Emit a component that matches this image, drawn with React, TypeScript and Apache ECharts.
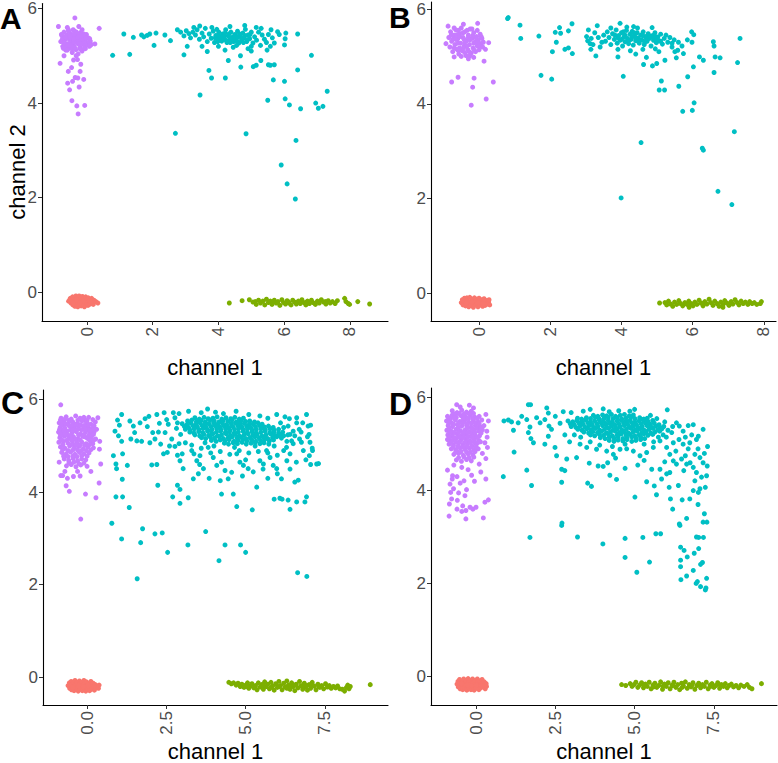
import React, { useEffect, useRef } from "react";
import * as echarts from "echarts";

const FONT = "'Liberation Sans', Arial, Helvetica, sans-serif";
const RED = "#F8766D";
const GREEN = "#7CAE00";
const CYAN = "#00BFC4";
const PURPLE = "#C77CFF";

const panelLetters = ["A", "B", "C", "D"];
const xTicksAB = [0, 2, 4, 6, 8];
const xTicksCD = [0, 2.5, 5, 7.5];
const yTicks = [0, 2, 4, 6];
const xTitle = "channel 1";
const yTitle = "channel 2";

// ---------------- Panel A ----------------
const redA = [[-.56,-.19],[-.51,-.13],[-.49,-.23],[-.44,-.1],[-.46,-.17],[-.43,-.27],[-.39,-.14],[-.41,-.21],[-.37,-.3],[-.34,-.08],[-.36,-.18],[-.33,-.25],[-.29,-.12],[-.31,-.21],[-.28,-.31],[-.24,-.08],[-.26,-.16],[-.23,-.26],[-.19,-.12],[-.21,-.2],[-.18,-.29],[-.14,-.09],[-.16,-.17],[-.13,-.25],[-.09,-.13],[-.11,-.22],[-.08,-.31],[-.04,-.1],[-.06,-.18],[-.03,-.27],[.01,-.14],[-.01,-.23],[.04,-.12],[.06,-.2],[.03,-.28],[.1,-.16],[.09,-.25],[.14,-.13],[.16,-.21],[.21,-.17],[.19,-.26],[.27,-.2],[.33,-.23],[-.52,-.18],[-.32,-.16],[-.12,-.19],[.08,-.18],[.12,-.21],[-.22,-.23],[-.42,-.23]];
const greenA = [[4.33,-.23],[4.72,-.18],[4.94,-.16],[5.12,-.2],[5.15,-.26],[5.22,-.17],[5.28,-.23],[5.35,-.19],[5.41,-.27],[5.46,-.15],[5.52,-.22],[5.58,-.19],[5.63,-.26],[5.7,-.17],[5.76,-.23],[5.81,-.2],[5.87,-.28],[5.93,-.16],[5.98,-.22],[6.04,-.25],[6.09,-.18],[6.15,-.23],[6.21,-.27],[6.26,-.17],[6.32,-.21],[6.37,-.25],[6.43,-.19],[6.49,-.24],[6.54,-.16],[6.6,-.22],[6.66,-.27],[6.71,-.19],[6.77,-.24],[6.83,-.17],[6.88,-.22],[6.95,-.26],[7.01,-.19],[7.07,-.23],[7.13,-.16],[7.2,-.21],[7.27,-.25],[7.34,-.18],[7.4,-.23],[7.47,-.2],[7.55,-.24],[7.62,-.18],[7.84,-.13],[7.88,-.2],[7.95,-.24],[7.99,-.26],[8.24,-.2],[8.6,-.25],[5.05,-.21],[5.67,-.21],[6.12,-.2],[6.68,-.21],[7.25,-.2]];
const purpleA = [[-.8,5.3],[-.76,5.42],[-.74,5.2],[-.7,5.5],[-.68,5.33],[-.65,5.12],[-.62,5.44],[-.6,5.25],[-.57,5.55],[-.55,5.36],[-.52,5.16],[-.5,5.47],[-.48,5.29],[-.45,5.07],[-.43,5.4],[-.41,5.21],[-.38,5.52],[-.36,5.33],[-.34,5.13],[-.31,5.44],[-.29,5.26],[-.27,5.04],[-.24,5.37],[-.22,5.18],[-.2,5.49],[-.17,5.3],[-.15,5.1],[-.12,5.41],[-.1,5.23],[-.07,5.34],[-.05,5.15],[-.02,5.45],[.01,5.27],[.04,5.38],[.07,5.2],[.1,5.31],[.13,5.24],[-.63,5.37],[-.46,5.38],[-.26,5.45],[-.09,5.32],[-.39,5.28],[-.58,5.18],[-.75,5.35],[-.55,5.26],[-.35,5.41],[-.15,5.34],[.05,5.29],[-.65,5.22],[-.45,5.15],[-.25,5.28],[-.05,5.22],[-.5,5.38],[-.3,5.36],[-.1,5.46],[-.7,5.27],[-.2,5.25],[-.4,5.45],
[-.78,5.45],[-.66,5.4],[-.52,5.42],[-.4,5.36],[-.28,5.4],[-.18,5.42],[-.04,5.38],[.08,5.36],[-.72,5.16],[-.6,5.12],[-.5,5.22],[-.38,5.18],[-.2,5.14],[-.08,5.16],[.1,5.22],[-.56,5.52],[-.42,5.55],[-.32,5.5],[-.15,5.55],
[-.37,5.8],[-.87,5.62],[-.6,5.6],[-.25,5.62],[.37,5.58],[.24,5.25],[-.82,4.84],[-.41,4.91],[-.19,4.82],[-.29,4.92],[-.57,4.67],[-.21,4.67],[-.59,4.42],[-.44,4.46],[-.36,4.54],[-.28,4.53],[-.1,4.5],[-.53,4.28],[-.24,4.34],[-.46,4.05],[-.31,3.94],[-.07,3.95],[-.27,3.77],[-.47,4.75],[-.33,5.0],[-.7,5.0]];
const cyanA = [[2.75,5.55],[2.85,5.5],[2.95,5.42],[3.02,5.53],[3.1,5.47],[3.15,5.38],[3.22,5.5],[3.3,5.44],[3.35,5.55],[3.42,5.35],[3.5,5.48],[3.55,5.4],[3.6,5.58],[3.66,5.3],[3.72,5.46],[3.78,5.37],[3.84,5.52],[3.88,5.28],[3.92,5.43],[3.97,5.35],[4.01,5.5],[4.05,5.4],[4.1,5.31],[4.13,5.46],[4.18,5.37],[4.22,5.55],[4.26,5.28],[4.3,5.42],[4.34,5.34],[4.38,5.5],[4.42,5.39],[4.46,5.3],[4.5,5.45],[4.54,5.36],[4.58,5.52],[4.62,5.27],[4.66,5.41],[4.7,5.33],[4.74,5.48],[4.78,5.38],[4.82,5.56],[4.86,5.3],[4.9,5.44],[4.95,5.36],[5.0,5.5],[5.05,5.27],[5.1,5.4],[5.16,5.33],[5.22,5.5],[5.28,5.22],[5.33,5.44],[5.4,5.35],[5.46,5.28],[5.52,5.45],[5.58,5.2],[5.64,5.38],[3.25,5.6],[3.8,5.6],[4.35,5.62],[4.8,5.64],[5.15,5.6],[5.3,5.58],[4.0,5.2],[4.45,5.18],[4.9,5.15],[3.95,5.56],[4.55,5.22],[5.0,5.2],[3.5,5.2],[4.2,5.12],[5.7,5.27],[5.85,5.45],[5.6,5.55],
[3.9,5.38],[4.0,5.44],[4.08,5.35],[4.16,5.42],[4.24,5.32],[4.32,5.46],[4.4,5.35],[4.48,5.41],[4.56,5.31],[4.64,5.46],[4.72,5.37],[4.8,5.43],[4.88,5.34],[4.96,5.45],[3.98,5.3],[4.36,5.28],[4.76,5.28],[4.6,5.4],[4.2,5.48],
[.78,5.01],[1.12,5.46],[1.3,5.03],[1.41,5.39],[1.66,5.44],[1.73,5.4],[1.83,5.43],[1.91,5.46],[2.04,5.22],[2.37,5.44],[2.54,5.32],[2.95,5.02],[3.05,5.2],[3.44,4.17],[2.69,3.36],[3.66,5.09],[3.71,4.69],[3.79,4.53],[4.21,4.53],[4.3,4.9],[4.68,4.76],[4.67,5.0],[4.84,3.35],[5.06,4.77],[5.15,4.8],[5.29,4.9],[5.52,4.81],[5.7,4.81],[5.67,4.49],[5.5,4.06],[6.01,4.46],[6.03,4.09],[6.16,3.96],[6.41,5.46],[6.41,4.7],[6.5,3.88],[6.36,3.21],[6.83,5.01],[6.96,4.0],[7.04,3.89],[7.18,3.93],[7.31,4.25],[6.05,5.48],[6.03,5.36],[6.01,5.23],[5.8,5.51],[5.91,2.69],[6.09,2.29],[6.34,1.97],[5.58,4.8],[3.43,5.63],[2.1,5.48],[5.0,5.1],[5.48,5.12]];

// ---------------- Panel B ----------------
const redB = [[-.5,-.2],[-.47,-.14],[-.45,-.25],[-.41,-.11],[-.4,-.19],[-.38,-.27],[-.34,-.1],[-.33,-.16],[-.31,-.23],[-.29,-.29],[-.26,-.09],[-.25,-.18],[-.22,-.25],[-.19,-.13],[-.18,-.21],[-.16,-.3],[-.13,-.1],[-.11,-.17],[-.09,-.25],[-.06,-.13],[-.05,-.22],[-.03,-.29],[0,-.11],[.01,-.18],[.03,-.25],[.07,-.14],[.08,-.21],[.1,-.28],[.14,-.12],[.15,-.19],[.17,-.26],[.21,-.16],[.23,-.23],[.27,-.19],[.3,-.25],[.28,-.14],[-.36,-.21],[-.2,-.19],[-.02,-.2],[.12,-.22]];
const greenB = [[5.07,-.21],[5.22,-.2],[5.27,-.25],[5.32,-.17],[5.38,-.23],[5.44,-.28],[5.49,-.19],[5.55,-.24],[5.61,-.16],[5.66,-.22],[5.72,-.27],[5.78,-.2],[5.84,-.24],[5.89,-.17],[5.95,-.22],[6.01,-.27],[6.06,-.19],[6.12,-.24],[6.18,-.15],[6.23,-.21],[6.29,-.27],[6.34,-.18],[6.4,-.23],[6.46,-.13],[6.51,-.2],[6.57,-.26],[6.62,-.17],[6.68,-.22],[6.74,-.28],[6.79,-.19],[6.85,-.24],[6.9,-.16],[6.96,-.21],[7.02,-.26],[7.08,-.18],[7.13,-.23],[7.19,-.14],[7.25,-.2],[7.3,-.25],[7.36,-.17],[7.42,-.22],[7.48,-.19],[7.55,-.24],[7.6,-.18],[7.67,-.22],[7.73,-.2],[7.8,-.24],[7.9,-.22],[7.93,-.18],[5.9,-.3],[6.3,-.22],[6.85,-.3]];
const purpleB = [[-.85,5.4],[-.82,5.2],[-.8,5.52],[-.77,5.32],[-.74,5.1],[-.7,5.45],[-.68,5.25],[-.65,5.56],[-.62,5.15],[-.6,5.37],[-.57,5.05],[-.55,5.48],[-.52,5.28],[-.5,5.6],[-.47,5.12],[-.45,5.4],[-.42,5.22],[-.4,5.52],[-.37,5.02],[-.35,5.33],[-.32,5.15],[-.3,5.45],[-.27,5.25],[-.25,5.58],[-.22,5.07],[-.2,5.38],[-.17,5.18],[-.15,5.5],[-.12,5.3],[-.1,5.1],[-.07,5.42],[-.05,5.22],[-.02,5.35],[0,5.14],[.03,5.47],[.05,5.27],[.08,5.38],[.1,5.2],[.12,5.3],[-.6,5.28],[-.4,5.3],[-.25,5.35],[-.3,4.95],[-.15,4.98],[-.5,5.0],[-.05,5.55],[-.7,5.6],[-.72,5.38],[-.55,5.18],[-.35,5.22],[-.15,5.28],[-.45,5.5],[-.62,5.46],[-.1,5.4],
[-.78,5.46],[-.66,5.36],[-.54,5.42],[-.42,5.36],[-.3,5.4],[-.18,5.44],[-.04,5.3],[.06,5.42],[-.7,5.18],[-.58,5.12],[-.44,5.18],[-.28,5.1],[-.14,5.14],[.02,5.22],[-.58,5.55],[-.34,5.55],[-.2,5.58],[-.4,5.08],[-.25,5.02],
[-.77,4.46],[-.59,4.56],[-.14,4.54],[-.18,4.35],[.4,4.46],[.2,4.1],[-.22,3.97],[-.04,5.7],[-.44,5.68],[-.87,5.64],[.27,5.29],[.14,4.9],[-.7,4.99],[-.93,5.27],[.18,5.15]];
const cyanB = [[3.5,5.45],[3.55,5.32],[3.6,5.52],[3.65,5.4],[3.7,5.25],[3.75,5.48],[3.8,5.36],[3.85,5.56],[3.88,5.28],[3.92,5.44],[3.96,5.34],[4.0,5.5],[4.03,5.22],[4.07,5.41],[4.1,5.31],[4.14,5.55],[4.17,5.38],[4.2,5.27],[4.24,5.47],[4.27,5.36],[4.3,5.53],[4.33,5.24],[4.37,5.43],[4.4,5.33],[4.44,5.5],[4.47,5.39],[4.5,5.28],[4.54,5.45],[4.57,5.35],[4.61,5.52],[4.64,5.25],[4.68,5.42],[4.72,5.32],[4.75,5.48],[4.79,5.38],[4.83,5.22],[4.87,5.44],[4.9,5.34],[4.94,5.5],[4.98,5.29],[5.02,5.41],[5.06,5.33],[5.1,5.47],[5.15,5.26],[5.2,5.38],[5.25,5.45],[5.3,5.3],[5.36,5.4],[5.42,5.28],[5.48,5.35],[3.9,5.15],[4.25,5.12],[4.6,5.15],[4.95,5.16],[3.45,5.3],[3.35,5.4],[3.25,5.5],[3.2,5.25],[3.15,5.38],[3.05,5.33],[3.4,5.2],[3.7,5.6],[4.45,5.6],[4.15,5.62],[5.6,5.3],[5.7,5.22],[5.05,5.1],[4.4,5.05],
[3.9,5.4],[4.0,5.36],[4.1,5.45],[4.2,5.33],[4.3,5.42],[4.4,5.38],[4.5,5.35],[4.6,5.44],[4.7,5.37],[4.8,5.43],[4.9,5.4],[5.0,5.36],[5.1,5.32],[3.82,5.45],[4.05,5.52],[4.35,5.5],[4.65,5.3],[4.95,5.42],
[.82,5.82],[.8,5.8],[1.15,5.66],[1.17,5.38],[1.68,5.43],[1.74,4.6],[2.04,4.52],[2.14,5.51],[2.26,5.61],[2.29,5.49],[2.17,5.3],[2.51,5.54],[2.61,5.69],[2.41,5.15],[2.51,5.18],[2.62,5.06],[2.06,5.1],[3.07,5.56],[3.02,5.42],[3.12,5.27],[3.14,5.15],[3.28,5.01],[3.32,5.65],[3.96,5.7],[4.05,4.58],[3.9,4.99],[4.34,5.63],[4.86,5.61],[4.62,4.83],[4.87,4.8],[4.99,4.85],[4.7,4.98],[5.22,4.92],[5.54,4.97],[5.58,5.13],[5.74,5.06],[5.85,5.35],[5.97,5.52],[6.03,5.46],[5.98,5.3],[6.02,4.78],[6.19,4.99],[6.3,4.92],[6.58,5.31],[6.6,5.22],[6.63,4.99],[6.77,4.97],[6.6,4.66],[7.33,5.38],[7.26,4.87],[5.86,4.57],[5.61,4.37],[5.12,4.48],[5.06,4.29],[5.21,4.29],[6.04,4.02],[5.99,3.86],[5.72,3.84],[4.55,3.18],[7.17,3.41],[6.27,3.06],[6.3,3.02],[3.99,2.01],[6.71,2.15],[7.1,1.87],[5.5,5.1],[5.42,5.2]];

// ---------------- Panel C ----------------
const redC = [[-.6,-.18],[-.56,-.12],[-.55,-.24],[-.5,-.09],[-.5,-.16],[-.49,-.27],[-.45,-.2],[-.43,-.12],[-.41,-.29],[-.38,-.07],[-.37,-.17],[-.35,-.24],[-.31,-.11],[-.3,-.2],[-.28,-.3],[-.24,-.08],[-.23,-.15],[-.22,-.25],[-.17,-.11],[-.16,-.19],[-.15,-.29],[-.1,-.07],[-.09,-.15],[-.08,-.23],[-.04,-.3],[-.02,-.1],[-.01,-.19],[.01,-.26],[.05,-.13],[.06,-.21],[.08,-.29],[.12,-.09],[.13,-.17],[.15,-.25],[.19,-.13],[.2,-.21],[.23,-.28],[.26,-.16],[.28,-.23],[.32,-.19],[.36,-.24],[.38,-.17],[-.27,-.19],[-.46,-.22],[-.12,-.2],[.03,-.17]];
const greenC = [[4.47,-.11],[4.55,-.14],[4.62,-.12],[4.7,-.17],[4.76,-.13],[4.83,-.2],[4.88,-.15],[4.95,-.22],[5.0,-.17],[5.06,-.12],[5.1,-.24],[5.15,-.19],[5.2,-.14],[5.26,-.23],[5.31,-.18],[5.36,-.27],[5.4,-.12],[5.46,-.21],[5.51,-.16],[5.56,-.26],[5.6,-.1],[5.65,-.2],[5.7,-.15],[5.75,-.25],[5.8,-.11],[5.85,-.19],[5.9,-.28],[5.95,-.14],[6.0,-.22],[6.05,-.09],[6.1,-.18],[6.15,-.27],[6.2,-.13],[6.25,-.21],[6.3,-.08],[6.35,-.17],[6.4,-.26],[6.45,-.12],[6.5,-.2],[6.55,-.29],[6.6,-.15],[6.65,-.23],[6.7,-.09],[6.75,-.18],[6.8,-.26],[6.85,-.13],[6.9,-.21],[6.95,-.28],[7.0,-.16],[7.05,-.24],[7.1,-.11],[7.16,-.19],[7.22,-.27],[7.28,-.15],[7.34,-.22],[7.4,-.18],[7.46,-.25],[7.52,-.14],[7.58,-.21],[7.64,-.18],[7.7,-.24],[7.77,-.2],[7.84,-.23],[7.9,-.19],[7.97,-.25],[8.05,-.26],[8.12,-.3],[8.18,-.22],[8.22,-.17],[8.26,-.25],[8.3,-.2],[8.93,-.16],[5.3,-.2],[5.55,-.16],[5.8,-.22],[6.05,-.2],[6.3,-.24],[6.55,-.17],[6.8,-.2],[7.05,-.17],[7.3,-.19],[5.05,-.2],[6.42,-.2],[6.92,-.18]];
const purpleC = [[-.82,5.6],[-.66,5.63],[-.5,5.58],[-.36,5.65],[-.22,5.6],[-.08,5.57],[.05,5.62],
[-.88,5.5],[-.74,5.53],[-.6,5.48],[-.45,5.52],[-.3,5.49],[-.16,5.54],[-.02,5.5],[.12,5.47],[.26,5.52],
[-.85,5.4],[-.7,5.38],[-.56,5.43],[-.41,5.39],[-.27,5.42],[-.12,5.37],[.02,5.41],[.16,5.38],[.3,5.36],
[-.9,5.3],[-.77,5.27],[-.63,5.32],[-.48,5.28],[-.34,5.31],[-.2,5.26],[-.05,5.3],[.09,5.27],[.22,5.3],
[-.86,5.18],[-.72,5.21],[-.58,5.17],[-.43,5.2],[-.29,5.16],[-.14,5.21],[0,5.17],[.14,5.2],[.27,5.15],
[-.89,5.08],[-.75,5.1],[-.6,5.06],[-.46,5.11],[-.32,5.07],[-.17,5.09],[-.03,5.05],[.11,5.1],
[-.84,4.98],[-.7,4.95],[-.55,5],[-.4,4.96],[-.26,4.99],[-.12,4.94],[.02,4.98],[.2,4.96],
[-.8,4.86],[-.66,4.83],[-.52,4.87],[-.38,4.82],[-.24,4.86],[-.1,4.83],[.06,4.85],
[-.72,4.72],[-.58,4.69],[-.44,4.73],[-.3,4.68],[-.17,4.72],[-.04,4.7],
[-.65,4.57],[-.5,4.6],[-.35,4.55],[-.2,4.59],[0,4.56],
[-.75,5.45],[-.52,5.35],[-.2,5.45],[-.65,5.12],[-.37,5.15],[-.08,5.2],[-.6,4.9],[-.3,4.91],[-.78,5.55],[-.1,5.62],[-.45,4.78],[.18,5.05],[-.58,5.55],[-.38,5.47],[-.8,5.35],[-.62,5.24],[-.42,5.03],[-.18,5.35],[.06,5.34],[-.7,4.78],[-.22,5.02],
[-.84,5.56],[-.7,5.58],[-.52,5.54],[-.29,5.56],[-.15,5.58],[.0,5.55],[.18,5.57],
[-.8,5.45],[-.66,5.47],[-.49,5.44],[-.35,5.46],[-.1,5.44],[.05,5.46],[.22,5.44],
[-.87,5.35],[-.73,5.33],[-.45,5.34],[-.3,5.36],[-.06,5.36],[.1,5.33],[.24,5.36],
[-.84,5.24],[-.7,5.26],[-.52,5.23],[-.27,5.24],[-.1,5.24],[.05,5.23],[.2,5.25],
[-.8,5.13],[-.5,5.14],[-.22,5.13],[.06,5.14],[.2,5.12],
[-.76,5.03],[-.5,5.03],[-.35,5.02],[-.08,5.02],[.08,5.03],
[-.77,4.92],[-.45,4.91],[-.18,4.9],[-.02,4.9],[.12,4.92],
[-.74,4.78],[-.6,4.77],[-.32,4.77],[-.17,4.79],[.0,4.78],
[-.57,4.64],[-.42,4.65],[-.26,4.62],[-.1,4.63],
[-.83,5.89],[-.83,4.36],[-.66,4.14],[-.56,4.02],[-.05,3.96],[.28,3.88],[-.2,3.42],[.38,4.2],[.43,4.61],[.39,4.93],[.34,5.61],[-.43,4.34],[-.22,4.35],[-.7,4.45],[-.3,4.45],[.12,4.45],[-.77,4.36],[.4,5.1],[-.88,4.65],[-.62,4.3]];
const cyanCcore = [[3.4,5.61],[3.54,5.58],[3.69,5.62],[3.82,5.59],[3.97,5.6],[4.1,5.63],[4.25,5.58],[4.38,5.61],[4.53,5.59],[4.66,5.62],[4.8,5.58],[4.93,5.6],
[3.17,5.54],[3.3,5.56],[3.45,5.53],[3.6,5.55],[3.73,5.52],[3.88,5.56],[4.01,5.54],[4.16,5.52],[4.29,5.55],[4.44,5.53],[4.57,5.56],[4.72,5.52],[4.85,5.55],[5.0,5.53],[5.13,5.54],[5.28,5.52],
[3.0,5.48],[3.15,5.46],[3.28,5.49],[3.43,5.47],[3.56,5.5],[3.71,5.46],[3.84,5.48],[3.99,5.5],[4.12,5.47],[4.27,5.49],[4.4,5.46],[4.55,5.48],[4.68,5.5],[4.83,5.47],[4.96,5.49],[5.11,5.46],[5.24,5.48],[5.39,5.5],[5.52,5.47],
[3.07,5.42],[3.2,5.4],[3.35,5.43],[3.48,5.41],[3.63,5.44],[3.76,5.4],[3.91,5.42],[4.04,5.44],[4.19,5.41],[4.32,5.43],[4.47,5.4],[4.6,5.42],[4.75,5.44],[4.88,5.41],[5.03,5.43],[5.16,5.4],[5.31,5.42],[5.44,5.44],[5.59,5.41],[5.72,5.43],[5.87,5.4],
[3.1,5.36],[3.25,5.34],[3.38,5.37],[3.53,5.35],[3.66,5.38],[3.81,5.34],[3.94,5.36],[4.09,5.38],[4.22,5.35],[4.37,5.37],[4.5,5.34],[4.65,5.36],[4.78,5.38],[4.93,5.35],[5.06,5.37],[5.21,5.34],[5.34,5.36],[5.49,5.38],[5.62,5.35],[5.77,5.37],[5.9,5.34],[6.04,5.36],
[3.24,5.3],[3.37,5.28],[3.52,5.31],[3.65,5.29],[3.8,5.32],[3.93,5.28],[4.08,5.3],[4.21,5.32],[4.36,5.29],[4.49,5.31],[4.64,5.28],[4.77,5.3],[4.92,5.32],[5.05,5.29],[5.2,5.31],[5.33,5.28],[5.48,5.3],[5.61,5.32],[5.76,5.29],[5.89,5.31],[6.04,5.28],[6.17,5.3],
[3.4,5.24],[3.55,5.22],[3.68,5.25],[3.83,5.23],[3.96,5.26],[4.11,5.22],[4.24,5.24],[4.39,5.26],[4.52,5.23],[4.67,5.25],[4.8,5.22],[4.95,5.24],[5.08,5.26],[5.23,5.23],[5.36,5.25],[5.51,5.22],[5.64,5.24],[5.79,5.26],[5.92,5.23],[6.07,5.25],[6.2,5.22],[6.33,5.24],
[3.61,5.18],[3.74,5.16],[3.89,5.19],[4.02,5.17],[4.17,5.2],[4.3,5.16],[4.45,5.18],[4.58,5.2],[4.73,5.17],[4.86,5.19],[5.01,5.16],[5.14,5.18],[5.29,5.2],[5.42,5.17],[5.57,5.19],[5.7,5.16],[5.85,5.18],[5.98,5.2],[6.13,5.17],
[3.92,5.12],[4.07,5.1],[4.2,5.13],[4.35,5.11],[4.48,5.14],[4.63,5.1],[4.76,5.12],[4.91,5.14],[5.04,5.11],[5.19,5.13],[5.32,5.1],[5.47,5.12],[5.6,5.14],[5.75,5.11],[5.88,5.13],
[4.33,5.06],[4.46,5.04],[4.61,5.07],[4.74,5.05],[4.89,5.08],[5.02,5.04],[5.17,5.06],[5.3,5.08],[5.45,5.05],[5.58,5.07],[5.73,5.04]];
const cyanCscatter = [[1.09,5.68],[.96,5.56],[1.02,5.45],[.88,5.32],[.99,5.22],[1.09,5.1],[.83,4.79],[.91,4.61],[.93,4.51],[1.12,4.83],[1.27,4.58],[1.11,4.28],[1.35,5.54],[1.46,5.43],[1.5,5.29],[1.38,5.15],[1.57,5.11],[1.72,5.1],[1.67,5.5],[1.83,5.59],[1.95,5.64],[1.9,5.42],[1.98,5.07],[2.07,5.29],[2.14,5.15],[2.2,5.68],[2.28,5.49],[2.25,5.3],[2.32,5.04],[2.04,4.59],[2.2,4.6],[2.43,5.72],[2.51,5.57],[2.56,5.47],[2.46,5.29],[2.41,4.83],[2.53,4.86],[2.72,5.72],[2.77,5.61],[2.82,5.38],[2.67,5.15],[2.77,4.99],[2.85,4.8],[2.93,4.68],[3.03,4.51],[3.0,4.83],[3.1,5.07],[3.3,4.9],[3.37,4.83],[3.46,4.68],[3.35,4.29],[3.51,4.4],[3.67,4.51],[3.56,4.79],[3.72,5.07],[3.82,4.97],[3.98,4.75],[4.09,4.58],[4.24,4.65],[4.35,4.47],[4.45,4.29],[4.56,4.43],[4.72,4.83],[4.82,4.65],[4.93,4.58],[5.08,4.51],[5.24,4.44],[5.35,4.11],[5.45,4.68],[5.56,4.61],[5.66,4.9],[5.77,4.75],[5.87,4.58],[5.98,4.51],[6.13,4.29],[6.29,4.97],[6.4,4.83],[6.45,5.11],[6.55,5.22],[6.61,5.5],[6.69,5.36],[6.76,5.08],[6.82,4.9],[6.92,5.68],[6.97,5.43],[7.03,5.08],[7.01,4.79],[7.11,4.9],[7.24,4.61],[5.98,5.68],[6.24,5.63],[6.38,5.59],[6.61,5.61],[6.1,5.5],[6.34,5.43],[6.5,5.32],[6.08,5.22],[6.66,4.26],[6.55,4.22],[6.08,3.87],[6.34,3.83],[6.61,3.79],[6.87,3.79],[6.92,3.9],[6.4,3.63],[5.21,3.62],[4.72,3.69],[4.61,3.96],[4.24,3.96],[3.19,3.88],[2.93,3.76],[2.7,3.9],[2.85,4.15],[2.93,4.06],[2.23,4.15],[1.12,3.9],[.91,3.9],[1.33,3.67],[.78,3.33],[1.09,2.99],[1.75,3.21],[1.69,2.91],[2.14,3.1],[2.37,3.12],[3.74,3.15],[3.18,2.86],[4.35,2.86],[4.84,2.86],[1.58,2.13],[2.54,2.7],[4.16,2.52],[5.0,2.7],[6.64,2.26],[6.93,2.18],
[2.9,5.7],[3.2,5.75],[3.6,5.72],[3.8,5.8],[4.05,5.73],[4.3,5.7],[4.7,5.75],[5.1,5.68],[5.45,5.65],[5.7,5.6],[6.2,5.4],[6.4,5.25],[6.5,5.05],[6.3,5.1],[6.7,5.15],[7.0,5.25],[7.05,5.45],[7.1,4.95],[7.3,4.62],[6.9,4.7],[6.6,4.65],[6.3,4.68],[6.0,4.8],[5.7,4.85],[5.4,4.88],[5.1,4.85],[4.8,4.9],[4.5,4.82],[4.2,4.88],[3.9,4.85],[3.6,4.95],[3.3,5.02],[2.9,5.05],[2.6,5.0],[2.95,5.25],[2.85,5.5],[5.9,5.0],[6.2,4.9],[4.0,5.0],[5.3,5.0],[4.65,4.97],[3.55,4.6],[4.9,4.35],[5.7,4.3],[4.2,4.25],[3.85,4.3],[5.0,4.7],[5.55,4.5],[6.8,5.5],[6.75,5.3],[6.95,5.2],[7.05,4.6],[6.4,4.5],[6.0,4.4],[5.9,3.85],[6.15,3.85]];

// ---------------- Panel D ----------------
const redD = [[-.6,-.17],[-.57,-.11],[-.56,-.23],[-.52,-.07],[-.51,-.15],[-.5,-.27],[-.46,-.2],[-.44,-.11],[-.42,-.29],[-.39,-.06],[-.37,-.16],[-.36,-.24],[-.32,-.1],[-.31,-.2],[-.29,-.3],[-.25,-.05],[-.24,-.14],[-.22,-.25],[-.18,-.09],[-.17,-.18],[-.16,-.29],[-.11,-.06],[-.1,-.14],[-.09,-.23],[-.06,-.3],[-.03,-.09],[-.02,-.18],[0,-.26],[.04,-.06],[.05,-.13],[.06,-.22],[.09,-.29],[.12,-.1],[.13,-.18],[.15,-.25],[.19,-.07],[.2,-.15],[.22,-.23],[.26,-.12],[.27,-.2],[.29,-.27],[.32,-.16],[.33,-.22],[-.27,-.19],[-.46,-.16],[-.13,-.2],[.01,-.19],[.16,-.2]];
const greenD = [[4.59,-.18],[4.72,-.2],[4.86,-.16],[4.92,-.22],[4.98,-.18],[5.04,-.13],[5.1,-.24],[5.16,-.19],[5.22,-.14],[5.28,-.25],[5.34,-.17],[5.4,-.22],[5.46,-.13],[5.52,-.27],[5.58,-.19],[5.64,-.15],[5.7,-.24],[5.76,-.2],[5.82,-.12],[5.88,-.28],[5.94,-.17],[6.0,-.22],[6.06,-.14],[6.12,-.27],[6.18,-.19],[6.24,-.13],[6.3,-.24],[6.36,-.18],[6.42,-.29],[6.48,-.15],[6.54,-.21],[6.6,-.12],[6.66,-.26],[6.72,-.18],[6.78,-.23],[6.84,-.14],[6.9,-.28],[6.96,-.2],[7.02,-.15],[7.08,-.25],[7.14,-.18],[7.2,-.22],[7.26,-.13],[7.32,-.27],[7.38,-.19],[7.44,-.16],[7.5,-.24],[7.56,-.2],[7.62,-.14],[7.68,-.26],[7.74,-.18],[7.8,-.22],[7.86,-.16],[7.92,-.25],[7.98,-.2],[8.05,-.17],[8.12,-.23],[8.2,-.2],[8.28,-.25],[8.35,-.19],[8.45,-.22],[8.55,-.18],[8.62,-.24],[8.7,-.27],[9.0,-.16],[5.3,-.2],[5.6,-.23],[5.9,-.21],[6.2,-.2],[6.5,-.24],[6.8,-.2],[7.1,-.21],[7.4,-.22],[7.7,-.19]];
const purpleD = [[-.75,5.72],[-.6,5.68],[-.45,5.73],[-.3,5.69],[-.15,5.71],
[-.9,5.6],[-.76,5.62],[-.62,5.58],[-.47,5.61],[-.33,5.59],[-.18,5.62],[-.04,5.58],[.1,5.6],
[-.93,5.5],[-.8,5.48],[-.65,5.52],[-.51,5.49],[-.36,5.51],[-.22,5.47],[-.08,5.5],[.06,5.48],[.18,5.52],
[-.88,5.4],[-.74,5.38],[-.59,5.42],[-.45,5.39],[-.3,5.41],[-.16,5.37],[-.02,5.4],[.12,5.38],
[-.92,5.3],[-.78,5.28],[-.63,5.32],[-.49,5.29],[-.34,5.31],[-.2,5.27],[-.06,5.3],[.08,5.28],[.2,5.31],
[-.89,5.2],[-.75,5.18],[-.6,5.22],[-.46,5.19],[-.31,5.21],[-.17,5.17],[-.03,5.2],[.11,5.18],
[-.9,5.1],[-.76,5.08],[-.62,5.12],[-.47,5.09],[-.33,5.11],[-.19,5.07],[-.05,5.1],[.09,5.08],
[-.85,5.0],[-.71,4.98],[-.56,5.02],[-.42,4.99],[-.27,5.01],[-.13,4.97],[.01,5.0],
[-.78,4.9],[-.64,4.88],[-.5,4.92],[-.35,4.89],[-.21,4.91],[-.07,4.87],[.07,4.9],
[-.7,4.78],[-.55,4.8],[-.4,4.76],[-.25,4.79],[-.1,4.77],
[-.62,4.66],[-.46,4.63],[-.3,4.67],[-.15,4.64],
[-.82,5.55],[-.55,5.45],[-.25,5.55],[-.7,5.25],[-.4,5.25],[-.12,5.25],[-.82,5.05],[-.52,5.05],[-.24,5.05],[-.6,4.85],[-.3,4.83],[.0,5.45],[-.4,5.62],[.14,5.05],
[-.68,5.65],[-.53,5.66],[-.37,5.65],[-.22,5.66],[-.08,5.66],
[-.86,5.55],[-.69,5.56],[-.4,5.55],[-.11,5.55],[.04,5.56],
[-.86,5.45],[-.72,5.44],[-.42,5.46],[-.28,5.44],[-.14,5.45],[.1,5.44],
[-.85,5.35],[-.56,5.36],[-.27,5.35],[-.12,5.34],[.03,5.35],[.15,5.34],
[-.83,5.25],[-.55,5.26],[-.26,5.25],[-.04,5.25],[.16,5.24],
[-.84,5.15],[-.69,5.14],[-.54,5.16],[-.4,5.15],[-.26,5.15],[-.11,5.14],[.04,5.15],
[-.78,5.04],[-.64,5.05],[-.35,5.04],[-.18,5.04],[-.06,5.05],[.07,5.04],
[-.72,4.94],[-.57,4.95],[-.42,4.94],[-.28,4.95],[-.14,4.94],[.0,4.94],
[-.64,4.83],[-.47,4.84],[-.18,4.83],[-.03,4.84],
[-.55,4.71],[-.38,4.72],[-.22,4.71],[-.07,4.72],
[-.61,5.85],[-.5,5.8],[-.21,5.84],[-.08,5.78],[.31,5.64],[.39,5.5],[.34,5.28],[.28,5.03],[.36,4.93],[.31,4.69],[.1,4.57],[-.9,4.44],[-.74,4.32],[-.82,4.14],[-.71,4.04],[-.5,4.16],[-.38,4.21],[-.14,4.33],[-.84,3.71],[-.77,3.82],[-.59,3.79],[-.42,3.67],[-.45,3.55],[-.32,3.57],[-.19,3.64],[0,3.64],[-.1,3.6],[-.32,3.39],[.23,3.41],[.28,3.75],[.39,3.8],[.31,4.25],[-.85,3.45],[-.8,3.96],[-.55,3.95],[-.35,3.89],[-.6,4.3],[-.25,4.45],[-.45,4.5],[-.7,4.55],[.15,4.4],[-.05,4.2],[.2,4.8],[.25,5.4],[.35,5.15],[-.75,4.25],[-.6,3.6],[-.3,4.02]];
const cyanDcore = [[3.7,5.62],[3.84,5.6],[3.99,5.63],[4.12,5.61],[4.27,5.64],[4.4,5.6],[4.55,5.62],[4.68,5.64],[4.83,5.61],[4.96,5.63],
[3.2,5.56],[3.33,5.54],[3.48,5.57],[3.61,5.55],[3.76,5.58],[3.89,5.54],[4.04,5.56],[4.17,5.58],[4.32,5.55],[4.45,5.57],[4.6,5.54],[4.73,5.56],[4.88,5.58],[5.01,5.55],[5.16,5.57],[5.29,5.54],[5.4,5.56],
[2.9,5.5],[3.05,5.48],[3.18,5.51],[3.33,5.49],[3.46,5.52],[3.61,5.48],[3.74,5.5],[3.89,5.52],[4.02,5.49],[4.17,5.51],[4.3,5.48],[4.45,5.5],[4.58,5.52],[4.73,5.49],[4.86,5.51],[5.01,5.48],[5.14,5.5],[5.29,5.52],[5.42,5.49],[5.57,5.51],
[2.97,5.44],[3.1,5.42],[3.25,5.45],[3.38,5.43],[3.53,5.46],[3.66,5.42],[3.81,5.44],[3.94,5.46],[4.09,5.43],[4.22,5.45],[4.37,5.42],[4.5,5.44],[4.65,5.46],[4.78,5.43],[4.93,5.45],[5.06,5.42],[5.21,5.44],[5.34,5.46],[5.49,5.43],[5.62,5.45],[5.77,5.42],
[3.0,5.38],[3.15,5.36],[3.28,5.39],[3.43,5.37],[3.56,5.4],[3.71,5.36],[3.84,5.38],[3.99,5.4],[4.12,5.37],[4.27,5.39],[4.4,5.36],[4.55,5.38],[4.68,5.4],[4.83,5.37],[4.96,5.39],[5.11,5.36],[5.24,5.38],[5.39,5.4],[5.52,5.37],[5.67,5.39],[5.8,5.36],[5.92,5.38],
[3.21,5.32],[3.34,5.3],[3.49,5.33],[3.62,5.31],[3.77,5.34],[3.9,5.3],[4.05,5.32],[4.18,5.34],[4.33,5.31],[4.46,5.33],[4.61,5.3],[4.74,5.32],[4.89,5.34],[5.02,5.31],[5.17,5.33],[5.3,5.3],[5.45,5.32],[5.58,5.34],[5.73,5.31],[5.86,5.33],
[3.4,5.26],[3.55,5.24],[3.68,5.27],[3.83,5.25],[3.96,5.28],[4.11,5.24],[4.24,5.26],[4.39,5.28],[4.52,5.25],[4.67,5.27],[4.8,5.24],[4.95,5.26],[5.08,5.28],[5.23,5.25],[5.36,5.27],[5.51,5.24],[5.64,5.26],[5.79,5.28],
[3.61,5.2],[3.74,5.18],[3.89,5.21],[4.02,5.19],[4.17,5.22],[4.3,5.18],[4.45,5.2],[4.58,5.22],[4.73,5.19],[4.86,5.21],[5.01,5.18],[5.14,5.2],[5.29,5.22],[5.42,5.19],[5.57,5.21],
[3.92,5.14],[4.07,5.12],[4.2,5.15],[4.35,5.13],[4.48,5.16],[4.63,5.12],[4.76,5.14],[4.91,5.16],[5.04,5.13],[5.19,5.15],[5.32,5.12],
[4.2,5.08],[4.35,5.06],[4.48,5.09],[4.63,5.07],[4.76,5.1],[4.91,5.06],[5.04,5.08],[5.19,5.1]];
const cyanDscatter = [[.88,5.5],[1.02,5.52],[1.12,5.48],[1.18,5.3],[1.2,4.83],[.86,4.3],[1.6,4.44],[1.75,4.11],[1.65,5.85],[1.72,5.85],[1.33,5.46],[1.44,5.6],[1.6,5.53],[1.7,5.37],[1.65,5.25],[1.73,5.12],[1.81,5.03],[1.91,5.57],[2.02,5.46],[2.17,5.53],[2.23,5.78],[2.28,5.67],[2.3,5.39],[2.17,5.0],[2.28,5.17],[2.38,5.32],[2.49,4.93],[2.54,4.75],[2.7,4.46],[2.8,4.43],[2.7,4.18],[2.7,3.25],[2.71,3.3],[1.7,2.99],[2.86,4.68],[3.17,4.71],[3.57,4.59],[3.52,4.16],[3.64,4.09],[3.85,4.53],[4.01,4.52],[4.22,4.33],[4.43,4.24],[4.7,4.48],[5.01,3.86],[5.38,4.19],[5.54,4.46],[5.69,3.91],[6.03,5.74],[5.8,4.46],[6.11,4.39],[6.09,4.07],[6.13,3.82],[6.38,4.11],[6.43,3.25],[6.64,3.4],[6.74,3.82],[6.85,4.0],[6.9,4.21],[7.01,3.96],[7.06,4.04],[7.23,4.07],[7.27,4.32],[7.29,4.53],[7.16,4.6],[7.06,4.71],[6.9,4.78],[6.69,4.9],[6.53,5.0],[6.74,5.03],[6.95,5.1],[7.16,5.32],[7.01,5.17],[6.85,5.42],[6.69,5.4],[6.53,5.28],[6.41,5.39],[6.32,5.46],[6.17,5.25],[6.22,5.03],[6.01,4.93],[5.8,5.07],[5.59,4.93],[5.38,4.82],[5.17,4.75],[4.96,4.85],[4.75,4.9],[4.54,4.89],[4.33,4.78],[4.12,4.85],[3.8,4.89],[3.49,4.93],[3.28,5.0],[6.48,4.68],[6.64,4.57],[6.32,4.57],[6.85,4.5],[6.95,4.39],[7.11,4.29],[6.11,4.78],[6.22,4.64],[6.55,4.43],[6.01,4.36],[3.2,3.0],[4.0,2.85],[4.7,2.97],[5.26,2.99],[5.67,3.07],[5.82,3.07],[7.02,2.99],[7.17,2.99],[4.7,2.56],[5.47,2.46],[5.07,2.24],[6.45,2.78],[6.56,2.71],[7.02,2.75],[6.88,2.65],[6.66,2.57],[6.45,2.5],[6.45,2.36],[6.85,2.28],[7.14,2.45],[7.08,2.41],[6.46,2.08],[6.64,2.16],[6.98,2.04],[6.94,2.0],[7.08,1.93],[7.23,1.86],[7.27,2.11],[7.25,1.9],[6.41,3.28],[7.16,3.32],[6.95,3.0],
[2.5,5.6],[2.65,5.45],[2.75,5.7],[3.0,5.68],[3.38,5.71],[3.6,5.75],[4.01,5.76],[4.2,5.7],[4.5,5.72],[4.85,5.71],[5.0,5.75],[5.27,5.53],[5.5,5.62],[5.7,5.55],[5.95,5.48],[6.05,5.3],[6.2,5.38],[6.0,5.15],[5.9,5.2],[2.8,5.2],[2.95,5.05],[3.1,5.2],[3.3,5.15],[3.6,5.05],[3.9,4.98],[4.3,4.95],[4.7,5.0],[5.3,5.0],[5.6,5.05],[5.75,5.15],[4.15,4.6],[4.4,4.7],[5.1,4.55],[5.3,4.65],[5.95,4.62],[6.3,4.85],[6.6,4.75],[6.75,4.6],[7.2,4.8],[7.3,4.95],[7.0,4.9],[6.8,5.2],[6.6,5.15],[6.4,5.1],[5.85,4.25],[5.62,4.1],[6.2,3.6],[6.5,3.8],[7.0,3.7],[7.2,3.5],[7.28,3.32]];

const panelData = [
  { red: redA, green: greenA, cyan: cyanA, purple: purpleA, xTicks: xTicksAB, decimals: 0 },
  { red: redB, green: greenB, cyan: cyanB, purple: purpleB, xTicks: xTicksAB, decimals: 0 },
  { red: redC, green: greenC, cyan: cyanCcore.concat(cyanCscatter), purple: purpleC, xTicks: xTicksCD, decimals: 1 },
  { red: redD, green: greenD, cyan: cyanDcore.concat(cyanDscatter), purple: purpleD, xTicks: xTicksCD, decimals: 1 },
];

const layout = [
  { grid: { left: 42, top: 2, width: 346, height: 319 }, x: [-1.37, 9.16], y: [-0.61, 6.105], lx: 0, ly: 18, ls: 30 },
  { grid: { left: 431, top: 2, width: 345, height: 319 }, x: [-1.35, 8.34], y: [-0.59, 6.15], lx: 389, ly: 17, ls: 30 },
  { grid: { left: 43, top: 390, width: 345, height: 319 }, x: [-1.39, 9.49], y: [-0.6, 6.21], lx: 1, ly: 403, ls: 32 },
  { grid: { left: 431, top: 388, width: 346, height: 320 }, x: [-1.42, 9.49], y: [-0.62, 6.21], lx: 389, ly: 404, ls: 32 },
];

const SYM = 5;

export default function App() {
  const ref = useRef<HTMLDivElement>(null);
  useEffect(() => {
    if (!ref.current) return;
    const chart = echarts.init(ref.current, undefined, { renderer: "svg" });
    const grids: any[] = [];
    const xAxes: any[] = [];
    const yAxes: any[] = [];
    const series: any[] = [];
    const graphics: any[] = [];
    layout.forEach((L, i) => {
      const P = panelData[i];
      grids.push({ ...L.grid, containLabel: false });
      xAxes.push({
        type: "value", gridIndex: i, min: L.x[0], max: L.x[1],
        axisLine: { show: true, onZero: false, lineStyle: { color: "#000", width: 1.1 } },
        axisTick: { show: true, length: 4, customValues: P.xTicks, lineStyle: { color: "#333" } },
        axisLabel: {
          customValues: P.xTicks, rotate: 90, fontSize: 17, color: "#4D4D4D", fontFamily: FONT, margin: 6,
          formatter: (v: number) => v.toFixed(P.decimals),
        },
        splitLine: { show: false },
        name: xTitle, nameLocation: "middle", nameGap: 35,
        nameTextStyle: { fontSize: 22, color: "#000", fontFamily: FONT },
      });
      yAxes.push({
        type: "value", gridIndex: i, min: L.y[0], max: L.y[1],
        axisLine: { show: true, onZero: false, lineStyle: { color: "#000", width: 1.1 } },
        axisTick: { show: true, length: 4, customValues: yTicks, lineStyle: { color: "#333" } },
        axisLabel: { customValues: yTicks, fontSize: 17, color: "#4D4D4D", fontFamily: FONT, margin: 5 },
        splitLine: { show: false },
      });
      const groups: [number[][], string][] = [[P.red, RED], [P.green, GREEN], [P.cyan, CYAN], [P.purple, PURPLE]];
      groups.forEach(([d, c]) => {
        series.push({
          type: "scatter", xAxisIndex: i, yAxisIndex: i, data: d, symbolSize: SYM,
          itemStyle: { color: c, opacity: 1 }, silent: true,
        });
      });
      graphics.push({
        type: "text", x: L.lx, y: L.ly,
        style: { text: panelLetters[i], fontSize: L.ls, fontWeight: "bold", fill: "#000", fontFamily: FONT, align: "left", verticalAlign: "middle" },
      });
    });
    graphics.push({
      type: "text", x: 17, y: 172, rotation: Math.PI / 2,
      style: { text: yTitle, fontSize: 22, fill: "#000", fontFamily: FONT, align: "center", verticalAlign: "middle" },
    });
    chart.setOption({
      animation: false,
      backgroundColor: "#fff",
      grid: grids, xAxis: xAxes, yAxis: yAxes, series, graphic: graphics,
    });
    return () => chart.dispose();
  }, []);
  return <div ref={ref} style={{ position: "fixed", left: 0, top: 0, width: 778, height: 763 }} />;
}
